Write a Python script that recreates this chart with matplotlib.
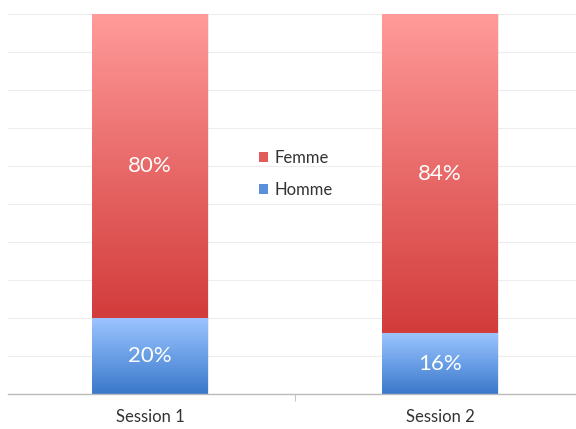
import matplotlib
matplotlib.use("Agg")
import matplotlib.pyplot as plt
import numpy as np
from matplotlib.colors import LinearSegmentedColormap
from matplotlib.patches import Rectangle, Patch

categories = ["Session 1", "Session 2"]
homme = [20, 16]
femme = [80, 84]
labels_homme = ["20%", "16%"]
labels_femme = ["80%", "84%"]

plt.rcParams['font.family'] = ['Lato', 'DejaVu Sans']

fig = plt.figure(figsize=(5.76, 4.29), dpi=100)
ax = fig.add_axes([8/576, 1 - 394/429, 1 - 8/576, 380/429])

x = np.arange(len(categories))
width = 0.4

red_cmap = LinearSegmentedColormap.from_list("r", ["#D23C3B", "#E86A69", "#FF9B9A"])
blue_cmap = LinearSegmentedColormap.from_list("b", ["#3B78C9", "#6A9FE6", "#9CC4FF"])
grad = np.linspace(0, 1, 256).reshape(-1, 1)

b1 = ax.bar(x, homme, width, color="none", label="Homme")
b2 = ax.bar(x, femme, width, bottom=homme, color="none", label="Femme")

for bars, cmap in ((b1, blue_cmap), (b2, red_cmap)):
    for r in bars:
        x0, y0 = r.get_x(), r.get_y()
        w, h = r.get_width(), r.get_height()
        ax.add_patch(Rectangle((x0 + 0.004, y0), w, h, color="#000000", alpha=0.08, zorder=1.5, lw=0))
        im = ax.imshow(grad, extent=[x0, x0 + w, y0, y0 + h], origin="lower",
                       cmap=cmap, aspect="auto", zorder=2)
        im.set_clip_path(Rectangle((x0, y0), w, h, transform=ax.transData))

for i in range(len(categories)):
    ax.text(x[i], homme[i] / 2, labels_homme[i], ha="center", va="center",
            color="white", fontsize=16)
    ax.text(x[i], homme[i] + femme[i] / 2, labels_femme[i], ha="center", va="center",
            color="white", fontsize=16)

ax.set_xlim(-0.49, 1.469)
ax.set_ylim(0, 100)
ax.set_yticks(np.arange(0, 101, 10))
ax.yaxis.grid(True, color="#EDEDED", lw=0.8)
ax.set_axisbelow(True)
ax.tick_params(axis="y", left=False, labelleft=False)
ax.set_xticks(x)
ax.set_xticklabels(categories, fontsize=12, color="#333333")
ax.tick_params(axis="x", length=0, pad=11)
ax.set_xticks([0.5], minor=True)
ax.tick_params(axis="x", which="minor", length=5, color="#BBBBBB", direction="out")
for s in ("top", "right", "left"):
    ax.spines[s].set_visible(False)
ax.spines["bottom"].set_color("#BBBBBB")
ax.spines["bottom"].set_linewidth(1)

handles = [Patch(facecolor="#E25A5A"), Patch(facecolor="#5A8FDB")]
leg = ax.legend(handles, ["Femme", "Homme"], loc="center",
                bbox_to_anchor=(296/576, 1 - 174/429), bbox_transform=fig.transFigure,
                frameon=False, fontsize=12,
                handlelength=0.55, handleheight=0.55, handletextpad=0.4, labelspacing=1.0)
for t in leg.get_texts():
    t.set_color("#333333")

fig.savefig("out.png", dpi=100)
